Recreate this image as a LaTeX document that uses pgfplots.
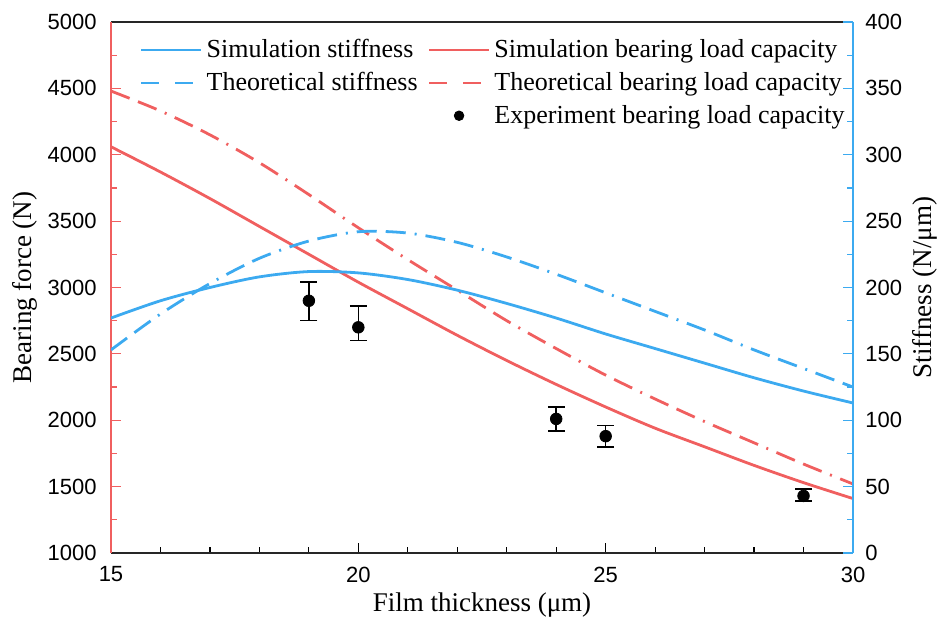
\documentclass[border=0pt]{standalone}
\usepackage{pgfplots}
\pgfplotsset{compat=1.18}
\usepackage{fontspec}
\setmainfont{Liberation Serif}
\newfontfamily\arialfont{Liberation Sans}
\definecolor{cblue}{RGB}{60,170,240}
\definecolor{cred}{RGB}{240,95,95}
\newcommand\labfont{\fontsize{13.5}{15}\selectfont}
\pgfplotsset{
  ddash/.style={dash pattern=on 10pt off 4.5pt on 10pt off 4.5pt on 1pt off 4.5pt},
  ldash/.style={dash pattern=on 9pt off 8pt},
  every axis/.append style={
    width=371pt, height=265.5pt, scale only axis,
    xmin=15, xmax=30,
    tick label style={font=\arialfont\fontsize{11}{13}\selectfont},
    /pgf/number format/assume math mode=true,
    major tick length=5pt, minor tick length=3pt,
    axis line style={line width=0.8pt},
    every tick/.append style={line width=0.6pt},
  },
}
\begin{document}
\begin{tikzpicture}
\begin{axis}[
  separate axis lines,
  x axis line style={black!85},
  y axis line style={cred},
  ymin=1000, ymax=5000,
  xtick={15,20,25,30}, minor x tick num=4,
  ytick={1000,1500,...,5000}, minor y tick num=1,
  xtick pos=bottom, ytick pos=left,
  x tick style={black}, y tick style={cred},
  /pgf/number format/set thousands separator={},
  xticklabel style={anchor=center, yshift=-10.75pt},
  yticklabel style={inner sep=0pt, anchor=east, xshift=-7pt},
  xlabel={Film thickness (μm)},
  ylabel={Bearing force (N)},
  every axis x label/.style={at={(axis description cs:0.5,0)}, yshift=-26pt, anchor=center, font=\labfont},
  every axis y label/.style={at={(axis description cs:0,0.5)}, xshift=-43pt, rotate=90, anchor=center, font=\labfont},
]
\addplot[cred, line width=1.4pt, smooth] coordinates {
(15,4060)(16,3870)(17,3670)(18,3460)(19,3250)(20,3040)(21,2840)(22,2640)
(23,2450)(24,2270)(25,2100)(26,1940)(27,1800)(28,1660)(29,1530)(30,1410)};
\addplot[cred, line width=1.4pt, smooth, ddash] coordinates {
(15,4480)(16,4330)(17,4150)(18,3940)(19,3700)(20,3450)(21,3210)(22,2980)
(23,2750)(24,2540)(25,2340)(26,2160)(27,1990)(28,1830)(29,1670)(30,1520)};
\addplot[black, only marks, mark=*, mark size=2.9pt,
  error bars/.cd, y dir=both, y explicit,
  error bar style={line width=0.8pt}, error mark options={rotate=90, mark size=4.2pt, line width=0.8pt}]
  coordinates {
  (19,2900) += (0,140) -= (0,150)
  (20,2700) += (0,160) -= (0,100)
  (24,2010) += (0,90) -= (0,90)
  (25,1880) += (0,80) -= (0,80)
  (29,1430) += (0,50) -= (0,40)
};
\end{axis}
\begin{axis}[
  axis y line*=right, axis x line=none,
  y axis line style={cblue},
  ymin=0, ymax=400,
  ytick={0,50,...,400}, minor y tick num=1,
  y tick style={cblue},
  yticklabel style={inner sep=0pt, anchor=west, xshift=6pt},
  ylabel={Stiffness (N/μm)},
  every axis y label/.style={at={(axis description cs:1,0.5)}, xshift=36pt, rotate=90, anchor=center, font=\labfont},
  legend columns=2,
  legend style={draw=none, fill=none, at={(1,1)}, anchor=north east, xshift=1pt, yshift=-4.5pt,
    font=\fontsize{13}{15}\selectfont, row sep=1.8pt,
    /tikz/every even column/.append style={column sep=3pt}},
  legend cell align=left,
  legend image code/.code={\draw[mark repeat=2,mark phase=2] plot coordinates {(0pt,0pt) (15pt,0pt) (30pt,0pt)};},
]
\addplot[cblue, line width=1.4pt, smooth, forget plot] coordinates {
(15,177)(16,190)(17,200)(18,208)(19,212)(20,211)(21,206)(22,198)
(23,188)(24,177)(25,165)(26,154)(27,143)(28,132)(29,122)(30,113)};
\addplot[cblue, line width=1.4pt, smooth, ddash, forget plot] coordinates {
(15,153)(16,180)(17,203)(18,222)(19,235)(20,242)(21,241)(22,234)
(23,223)(24,210)(25,196)(26,182)(27,168)(28,153)(29,139)(30,125)};
\addlegendimage{cblue, line width=1.4pt}
\addlegendentry{Simulation stiffness}
\addlegendimage{cred, line width=1.4pt}
\addlegendentry{Simulation bearing load capacity}
\addlegendimage{cblue, line width=1.4pt, ldash}
\addlegendentry{Theoretical stiffness}
\addlegendimage{cred, line width=1.4pt, ldash}
\addlegendentry{Theoretical bearing load capacity}
\addlegendimage{empty legend}
\addlegendentry{}
\addlegendimage{black, only marks, mark=*, mark size=2.4pt}
\addlegendentry{Experiment bearing load capacity}
\end{axis}
\pgfresetboundingbox
\useasboundingbox (-55.5pt,-36.5pt) rectangle (416pt,276.5pt);
\end{tikzpicture}
\end{document}
